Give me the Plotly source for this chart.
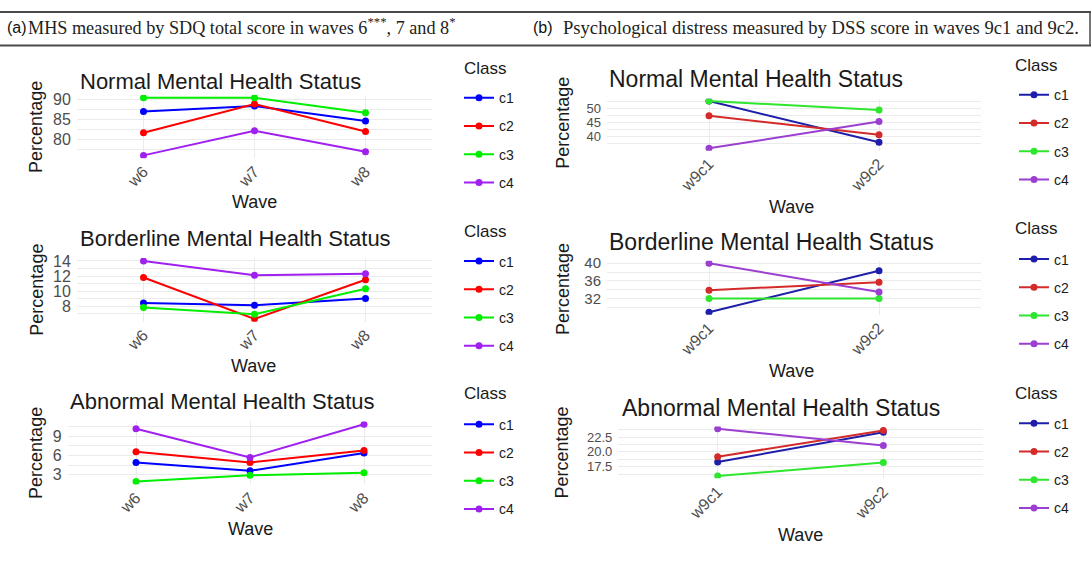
import plotly.graph_objects as go

# ---------------- data ----------------
waves_a = ["w6", "w7", "w8"]
waves_b = ["w9c1", "w9c2"]
classes = ["c1", "c2", "c3", "c4"]

# values per class (c1..c4), one list per wave
normal_a = [[86.9, 88.3, 84.6], [81.7, 88.8, 82.0], [90.3, 90.3, 86.6], [76.1, 82.2, 77.0]]
borderline_a = [[8.4, 8.1, 9.0], [11.8, 6.3, 11.5], [7.8, 6.9, 10.3], [14.0, 12.1, 12.3]]
abnormal_a = [[4.9, 3.6, 6.4], [6.6, 4.9, 6.8], [1.9, 2.9, 3.3], [10.2, 5.7, 10.9]]
normal_b = [[52.5, 38.0], [47.3, 40.7], [52.5, 49.4], [35.9, 45.3]]
borderline_b = [[28.9, 38.3], [33.9, 35.7], [32.0, 32.0], [40.0, 33.5]]
abnormal_b = [[18.3, 23.3], [19.2, 23.6], [15.95, 18.2], [23.9, 21.07]]

panel_titles = ["Normal Mental Health Status", "Borderline Mental Health Status",
                "Abnormal Mental Health Status"]

ticks_normal_a = [80, 85, 90]
ticks_borderline_a = [8, 10, 12, 14]
ticks_abnormal_a = [3, 6, 9]
ticks_normal_b = [40, 45, 50]
ticks_borderline_b = [32, 36, 40]
ticks_abnormal_b = [17.5, 20.0, 22.5]
ticktext_abnormal_b = ["17.5", "20.0", "22.5"]

header_a = "MHS measured by SDQ total score in waves 6<sup>***</sup>, 7 and 8<sup>*</sup>"
header_b = "Psychological distress measured by DSS score in waves 9c1 and 9c2."

# ---------------- styling / layout ----------------
W, H = 1092, 567
def fx(p):
    return p / W
def fy(p):
    return 1 - p / H

colors_a = ["#0000FF", "#FF0000", "#00EE00", "#A020F0"]
colors_b = ["#1E1EAA", "#D42A2A", "#2EE62E", "#9B3FD1"]
SANS = "Liberation Sans, Arial, sans-serif"
SERIF = "Liberation Serif, Times New Roman, serif"
GRID = "#EBEBEB"
TICKC = "#4D4D4D"

panels = [
    dict(data=normal_a, waves=waves_a, colors=colors_a, title=panel_titles[0], tsize=22, ysize=16,
         x0=76.9, x1=432.1, top=89.9, bot=153.9, yr=[75.39, 91.01],
         tv=ticks_normal_a, tt=None, minor=[77.5, 82.5, 87.5],
         tpos=(77.7, 76.7), ppos=(36.7, 122.5), wpos=(254, 198),
         leg=(459, 77), cls=(461.7, 62.7)),
    dict(data=borderline_a, waves=waves_a, colors=colors_a, title=panel_titles[1], tsize=22, ysize=16,
         x0=76.9, x1=432.1, top=254.8, bot=319.1, yr=[5.915, 14.385],
         tv=ticks_borderline_a, tt=None, minor=[7, 9, 11, 13],
         tpos=(78, 235), ppos=(36.7, 287), wpos=(253, 364),
         leg=(459, 242), cls=(461.7, 228)),
    dict(data=abnormal_a, waves=waves_a, colors=colors_a, title=panel_titles[2], tsize=22, ysize=16,
         x0=67.6, x1=432.4, top=419.9, bot=483.6, yr=[1.45, 11.35],
         tv=ticks_abnormal_a, tt=None, minor=[1.5, 4.5, 7.5, 10.5],
         tpos=(68, 400), ppos=(36.7, 452), wpos=(250, 529),
         leg=(459, 407), cls=(461.7, 392)),
    dict(data=normal_b, waves=waves_b, colors=colors_b, title=panel_titles[0], tsize=23, ysize=13,
         x0=607, x1=981, top=93.7, bot=146.2, yr=[35.07, 53.33],
         tv=ticks_normal_b, tt=None, minor=[37.5, 42.5, 47.5, 52.5],
         tpos=(606.7, 73.3), ppos=(563, 118), wpos=(791.7, 203),
         leg=(1014, 74), cls=(1012.7, 60)),
    dict(data=borderline_b, waves=waves_b, colors=colors_b, title=panel_titles[1], tsize=23, ysize=15,
         x0=607, x1=981, top=257.5, bot=312.0, yr=[28.35, 40.56],
         tv=ticks_borderline_b, tt=None, minor=[30, 34, 38],
         tpos=(606.7, 239), ppos=(563, 286), wpos=(791.7, 369.3),
         leg=(1014, 240), cls=(1012.7, 225)),
    dict(data=abnormal_b, waves=waves_b, colors=colors_b, title=panel_titles[2], tsize=23, ysize=13,
         x0=618.3, x1=982.7, top=424.9, bot=477.4, yr=[15.55, 24.3],
         tv=ticks_abnormal_b, tt=ticktext_abnormal_b, minor=[16.25, 18.75, 21.25, 23.75],
         tpos=(620, 406.7), ppos=(561.7, 451.7), wpos=(800, 535),
         leg=(1014, 406), cls=(1012.7, 392)),
]

fig = go.Figure()
annotations = []
layout = dict(
    width=W, height=H, margin=dict(l=0, r=0, t=0, b=0),
    paper_bgcolor="white", plot_bgcolor="white",
    font=dict(family=SANS, color="#1a1a1a"),
    showlegend=True,
)

for i, p in enumerate(panels, start=1):
    sfx = "" if i == 1 else str(i)
    legname = "legend" if i == 1 else f"legend{i}"
    for cls, vals, col in zip(classes, p["data"], p["colors"]):
        fig.add_trace(go.Scatter(
            x=p["waves"], y=vals, mode="lines+markers", name=cls,
            line=dict(color=col, width=2), marker=dict(color=col, size=7),
            xaxis=f"x{sfx}", yaxis=f"y{sfx}", legend=legname,
            legendgroup=f"{i}-{cls}", hoverinfo="x+y+name",
        ))
    n = len(p["waves"])
    layout[f"xaxis{sfx}"] = dict(
        domain=[fx(p["x0"]), fx(p["x1"])], anchor=f"y{sfx}", type="category",
        categoryorder="array", categoryarray=p["waves"],
        range=[-0.6, n - 1 + 0.6], tickangle=-45,
        tickfont=dict(size=16, color=TICKC), showgrid=True, gridcolor=GRID,
        gridwidth=1, zeroline=False, showline=False, ticks="",
    )
    ydict = dict(
        domain=[fy(p["bot"]), fy(p["top"])], anchor=f"x{sfx}", range=p["yr"],
        tickvals=p["tv"], tickfont=dict(size=p["ysize"], color=TICKC),
        showgrid=True, gridcolor=GRID, gridwidth=1.2, zeroline=False,
        showline=False, ticks="", ticklabelstandoff=5,
        minor=dict(tickvals=p["minor"], showgrid=True, gridcolor=GRID, gridwidth=0.6),
    )
    if p["tt"] is not None:
        ydict["ticktext"] = p["tt"]
    layout[f"yaxis{sfx}"] = ydict
    layout[legname] = dict(
        x=fx(p["leg"][0]), y=fy(p["leg"][1]), xanchor="left", yanchor="top",
        font=dict(size=14, color="#1a1a1a"), tracegroupgap=7,
        bgcolor="rgba(0,0,0,0)", itemwidth=30,
    )
    annotations.append(dict(text="Class", x=fx(p["cls"][0]), y=fy(p["cls"][1]),
                            xref="paper", yref="paper", xanchor="left", yanchor="middle",
                            showarrow=False, font=dict(size=17, color="#1a1a1a", family=SANS)))
    annotations.append(dict(text=p["title"], x=fx(p["tpos"][0]), y=fy(p["tpos"][1]),
                            xref="paper", yref="paper", xanchor="left", yanchor="middle",
                            showarrow=False, font=dict(size=p["tsize"], color="#1a1a1a", family=SANS)))
    annotations.append(dict(text="Percentage", x=fx(p["ppos"][0]), y=fy(p["ppos"][1]),
                            xref="paper", yref="paper", xanchor="center", yanchor="middle",
                            textangle=-90, showarrow=False,
                            font=dict(size=18, color="#1a1a1a", family=SANS)))
    annotations.append(dict(text="Wave", x=fx(p["wpos"][0]), y=fy(p["wpos"][1]),
                            xref="paper", yref="paper", xanchor="center", yanchor="middle",
                            showarrow=False, font=dict(size=18, color="#1a1a1a", family=SANS)))

# header
annotations += [
    dict(text="(a)", x=fx(5), y=fy(22), xref="paper", yref="paper", xanchor="left",
         yanchor="middle", showarrow=False, font=dict(size=16, family=SANS, color="#111")),
    dict(text=header_a, x=fx(26), y=fy(21), xref="paper", yref="paper", xanchor="left",
         yanchor="middle", showarrow=False, font=dict(size=18.2, family=SERIF, color="#222")),
    dict(text="(b)", x=fx(531), y=fy(22), xref="paper", yref="paper", xanchor="left",
         yanchor="middle", showarrow=False, font=dict(size=16, family=SANS, color="#111")),
    dict(text=header_b, x=fx(561), y=fy(22), xref="paper", yref="paper", xanchor="left",
         yanchor="middle", showarrow=False, font=dict(size=18.6, family=SERIF, color="#222")),
]
shapes = [
    dict(type="line", xref="paper", yref="paper", x0=0, x1=fx(1091), y0=fy(6), y1=fy(6),
         line=dict(color="#4a4a4a", width=2)),
    dict(type="line", xref="paper", yref="paper", x0=0, x1=fx(1091), y0=fy(40), y1=fy(40),
         line=dict(color="#4a4a4a", width=2)),
    dict(type="line", xref="paper", yref="paper", x0=fx(1090), x1=fx(1090), y0=fy(6), y1=fy(40),
         line=dict(color="#4a4a4a", width=1.5)),
]
layout["annotations"] = annotations
layout["shapes"] = shapes
fig.update_layout(**layout)

post = ("document.body.style.margin='0';document.body.style.overflow='hidden';"
        "var d=document.getElementById('{plot_id}');"
        "d.style.position='absolute';d.style.top='0px';d.style.left='0px';")
fig.write_html("out.html", config={"displayModeBar": False}, post_script=post)
